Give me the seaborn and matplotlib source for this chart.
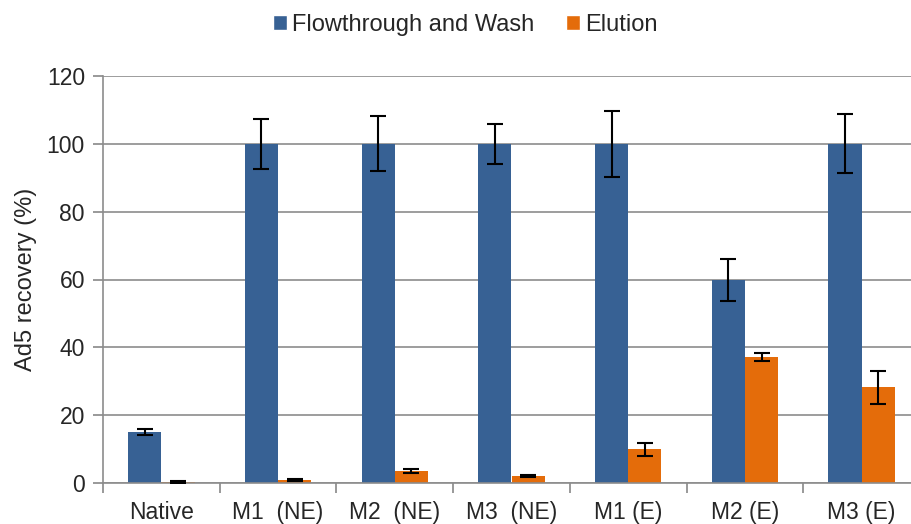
import matplotlib
matplotlib.use("Agg")
import matplotlib.pyplot as plt
import seaborn as sns
import pandas as pd
import numpy as np

categories = ["Native", "M1  (NE)", "M2  (NE)", "M3  (NE)", "M1 (E)", "M2 (E)", "M3 (E)"]
series = ["Flowthrough and Wash", "Elution"]
flow_wash = [15.0, 100.0, 100.0, 100.0, 100.0, 59.8, 100.0]
flow_wash_err = [0.9, 7.4, 8.1, 5.8, 9.8, 6.2, 8.7]
elution = [0.3, 0.8, 3.5, 2.0, 9.9, 37.1, 28.2]
elution_err = [0.2, 0.3, 0.5, 0.3, 2.0, 1.2, 4.8]
yticks = [0, 20, 40, 60, 80, 100, 120]

colors = ["#376194", "#E46C0A"]

df = pd.DataFrame({
    "category": categories * 2,
    "series": [series[0]] * len(categories) + [series[1]] * len(categories),
    "value": flow_wash + elution,
    "err": flow_wash_err + elution_err,
})

sns.set_theme(style="white")
plt.rcParams["font.family"] = ["Liberation Sans", "DejaVu Sans"]

fig = plt.figure(figsize=(9.11, 5.24), dpi=100)
ax = fig.add_axes([103 / 911, 1 - 483 / 524, 817 / 911, 407 / 524])

sns.barplot(data=df, x="category", y="value", hue="series", order=categories,
            hue_order=series, palette=colors, errorbar=None, width=0.57,
            saturation=1, ax=ax, legend=True)

# error bars at the centre of each drawn bar
for i, s in enumerate(series):
    sub = df[df["series"] == s].set_index("category").loc[categories]
    cont = ax.containers[i]
    xs = [b.get_x() + b.get_width() / 2 for b in cont]
    ax.errorbar(xs, sub["value"].values, yerr=sub["err"].values, fmt="none",
                ecolor="black", elinewidth=1.5, capsize=6, capthick=1.5, zorder=5)
    for b in cont:
        b.set_edgecolor("none")

ax.set_ylim(0, 120)
ax.set_yticks(yticks)
ax.set_yticklabels([str(t) for t in yticks], fontsize=16.5)
ax.set_xlim(-0.5, len(categories) - 0.5)
ax.set_xticks(np.arange(len(categories)))
ax.set_xticklabels(categories, fontsize=16.5)
ax.tick_params(axis="x", length=0, pad=13)
ax.tick_params(axis="y", length=7, color="#888888", width=1.2, pad=6, left=True)

# category boundary ticks along the bottom axis
ax.set_xticks(np.arange(len(categories) + 1) - 0.5, minor=True)
ax.tick_params(axis="x", which="minor", length=7, color="#888888", width=1.2, bottom=True)

ax.yaxis.grid(True, color="#8c8c8c", linewidth=1.2)
ax.set_axisbelow(True)
for side in ["top", "right"]:
    ax.spines[side].set_visible(False)
for side in ["left", "bottom"]:
    ax.spines[side].set_color("#8c8c8c")
    ax.spines[side].set_linewidth(1.2)

ax.set_xlabel("")
ax.set_ylabel("Ad5 recovery (%)", fontsize=17, labelpad=7)

handles, labels = ax.get_legend_handles_labels()
ax.legend_.remove()
fig.legend(handles, labels, loc="center", bbox_to_anchor=(0.5 + 10 / 911, 1 - 25 / 524), ncol=2,
           frameon=False, fontsize=17, handlelength=0.6, handleheight=0.6,
           handletextpad=0.2, columnspacing=1.35)

fig.savefig("out.png", dpi=100)
